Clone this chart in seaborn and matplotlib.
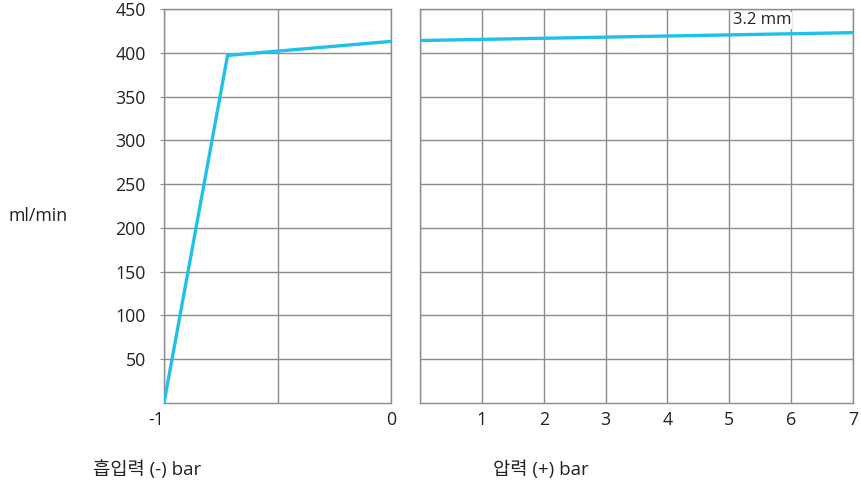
import pandas as pd
import matplotlib.pyplot as plt
import seaborn as sns

# suction side (negative pressure) and pressure side values
suction_bar = [-1.0, -0.72, 0.0]
suction_flow = [0, 397, 413]
pressure_bar = [0, 7]
pressure_flow = [414, 423]
y_ticks = [50, 100, 150, 200, 250, 300, 350, 400, 450]
left_ticks = [-1, -0.5, 0]
left_labels = ['-1', '', '0']
right_ticks = [0, 1, 2, 3, 4, 5, 6, 7]
right_labels = ['', '1', '2', '3', '4', '5', '6', '7']

sns.set_style('white')
plt.rcParams['font.family'] = ['Open Sans', 'Noto Sans CJK KR', 'DejaVu Sans']
plt.rcParams['font.size'] = 12.8

line_color = '#1fc1ea'
grid_color = '#8c8c8c'
text_color = '#222222'

fig = plt.figure(figsize=(8.61, 4.83), dpi=100)
W, H = 861, 483
bottom, top = 403, 9
ax1 = fig.add_axes([164 / W, (H - bottom) / H, (391 - 164) / W, (bottom - top) / H])
ax2 = fig.add_axes([420 / W, (H - bottom) / H, (853 - 420) / W, (bottom - top) / H])

df1 = pd.DataFrame({'bar': suction_bar, 'flow': suction_flow})
df2 = pd.DataFrame({'bar': pressure_bar, 'flow': pressure_flow})
sns.lineplot(data=df1, x='bar', y='flow', ax=ax1, color=line_color, linewidth=2.4, zorder=3)
sns.lineplot(data=df2, x='bar', y='flow', ax=ax2, color=line_color, linewidth=2.4, zorder=3)

for ax in (ax1, ax2):
    ax.set_ylim(0, 450)
    ax.set_yticks(y_ticks)
    ax.grid(True, color=grid_color, linewidth=1)
    ax.set_xlabel('')
    ax.set_ylabel('')
    for s in ax.spines.values():
        s.set_color(grid_color)
        s.set_linewidth(1)
    ax.tick_params(axis='x', length=0, pad=6, colors=text_color)

ax1.set_xlim(-1, 0)
ax1.set_xticks(left_ticks)
ax1.set_xticklabels(left_labels)
ax1.get_xticklabels()[0].set_horizontalalignment('right')
ax1.tick_params(axis='y', length=3, pad=10, color=grid_color, labelcolor=text_color, left=True)

ax2.set_xlim(0, 7)
ax2.set_xticks(right_ticks)
ax2.set_xticklabels(right_labels)
ax2.tick_params(axis='y', length=0, labelleft=False)
ax2.text(5.06, 437, '3.2 mm', ha='left', va='center', color=text_color, fontsize=12,
         bbox=dict(facecolor='white', edgecolor='none', pad=0.5), zorder=4)

fig.text(8 / W, 1 - 216 / H, 'ml/min', ha='left', va='center', color=text_color)
fig.text(93 / W, 1 - 470 / H, '흡입력 (-) bar', ha='left', va='center', color=text_color, fontsize=13.5)
fig.text(493 / W, 1 - 470 / H, '압력 (+) bar', ha='left', va='center', color=text_color, fontsize=13.5)

fig.savefig('out.png', dpi=100)
